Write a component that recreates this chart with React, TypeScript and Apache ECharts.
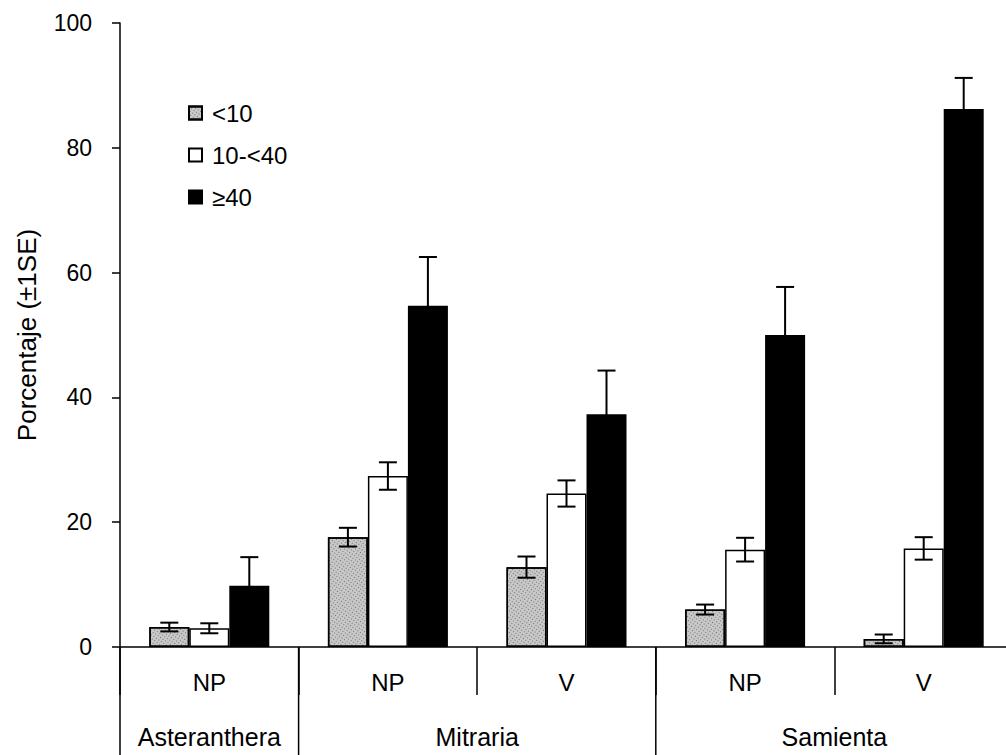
import React, { useEffect, useRef } from "react";
import * as echarts from "echarts";

// ---- data ----
const categories = ["NP", "NP", "V", "NP", "V"];
const groupNames = ["Asteranthera", "Mitraria", "Samienta"];
const groupSizes = [1, 2, 2];
const seriesNames = ["<10", "10-<40", "≥40"];
const lt10 = [3.2, 17.6, 12.8, 6.0, 1.3];
const lt10Err = [0.7, 1.5, 1.7, 0.8, 0.7];
const mid = [3.0, 27.4, 24.6, 15.6, 15.8];
const midErr = [0.8, 2.2, 2.1, 1.9, 1.8];
const hi = [9.8, 54.7, 37.3, 50.0, 86.2];
const hiErr = [4.6, 7.8, 7.0, 7.7, 5.0];
const yTicks = [0, 20, 40, 60, 80, 100];

const BAR_W = 40;
const FONT = "'Liberation Sans', Arial, sans-serif";

function errSeries(values: number[], errs: number[], k: number) {
  return {
    type: "custom",
    z: 10,
    silent: true,
    data: values.map((v, i) => [i, v, errs[i]]),
    encode: { x: 0, y: 1 },
    renderItem: (params: any, api: any) => {
      const i = api.value(0);
      const v = api.value(1);
      const e = api.value(2);
      const x = api.coord([i, 0])[0] + (k - 1) * BAR_W;
      const yTop = api.coord([i, v + e])[1];
      const yBot = api.coord([i, v - e])[1];
      const cap = 9;
      const style = { stroke: "#000", lineWidth: 2 };
      return {
        type: "group",
        children: [
          { type: "line", shape: { x1: x, y1: yTop, x2: x, y2: yBot }, style },
          { type: "line", shape: { x1: x - cap, y1: yTop, x2: x + cap, y2: yTop }, style },
          { type: "line", shape: { x1: x - cap, y1: yBot, x2: x + cap, y2: yBot }, style },
        ],
      };
    },
  };
}

export default function App() {
  const ref = useRef<HTMLDivElement>(null);
  useEffect(() => {
    document.body.style.margin = "0";
    document.body.style.overflow = "hidden";
    const chart = echarts.init(ref.current!, null, { renderer: "svg" });
    const barBase = {
      type: "bar",
      barWidth: BAR_W,
      barGap: "0%",
    };
    chart.setOption({
      animation: false,
      textStyle: { fontFamily: FONT, color: "#000" },
      grid: { left: 120, right: 0, top: 23, bottom: 108, containLabel: false },
      legend: {
        orient: "vertical",
        left: 188,
        top: 101,
        itemWidth: 13,
        itemHeight: 13,
        itemGap: 18,
        padding: 0,
        icon: "rect",
        textStyle: { fontSize: 24, color: "#000", fontFamily: FONT, padding: [0, 0, 0, 5] },
        data: seriesNames,
      },
      xAxis: {
        type: "category",
        data: categories,
        axisLine: { show: true, lineStyle: { color: "#000", width: 1.5 } },
        axisTick: { show: true, interval: 0, length: 48, lineStyle: { color: "#000", width: 1.5 } },
        axisLabel: { fontSize: 24, color: "#000", margin: 23, fontFamily: FONT },
        splitLine: { show: false },
      },
      yAxis: {
        type: "value",
        min: 0,
        max: 100,
        interval: 20,
        name: "Porcentaje (±1SE)",
        nameLocation: "middle",
        nameRotate: 90,
        nameGap: 80,
        nameTextStyle: { fontSize: 26, color: "#000", fontFamily: FONT },
        axisLine: { show: true, lineStyle: { color: "#000", width: 1.5 } },
        axisTick: { show: true, length: 8, lineStyle: { color: "#000", width: 1.5 } },
        axisLabel: {
          fontSize: 23,
          color: "#000",
          margin: 28,
          fontFamily: FONT,
          formatter: (v: number) => (yTicks.includes(v) ? String(v) : ""),
        },
        splitLine: { show: false },
      },
      series: [
        {
          ...barBase,
          name: seriesNames[0],
          data: lt10,
          itemStyle: {
            color: "#c8c8c8",
            borderColor: "#000",
            borderWidth: 1.5,
            decal: {
              symbol: "rect",
              symbolSize: 1,
              color: "rgba(50,50,50,0.6)",
              dashArrayX: [1, 2],
              dashArrayY: [1, 2],
              rotation: 0.6,
            },
          },
        },
        {
          ...barBase,
          name: seriesNames[1],
          data: mid,
          itemStyle: { color: "#ffffff", borderColor: "#000", borderWidth: 1.5 },
        },
        {
          ...barBase,
          name: seriesNames[2],
          data: hi,
          itemStyle: { color: "#000000", borderColor: "#000", borderWidth: 1.5 },
        },
        errSeries(lt10, lt10Err, 0),
        errSeries(mid, midErr, 1),
        errSeries(hi, hiErr, 2),
      ],
    });

    // group separators and group labels, placed with the axis scale
    const px = (i: number) => chart.convertToPixel({ xAxisIndex: 0 }, i) as number;
    const y0 = chart.convertToPixel({ yAxisIndex: 0 }, 0) as number;
    const step = px(1) - px(0);
    const graphics: any[] = [];
    let start = 0;
    groupNames.forEach((name, g) => {
      const n = groupSizes[g];
      const left = px(start) - step / 2;
      const right = px(start + n - 1) + step / 2;
      graphics.push({
        type: "line",
        shape: { x1: left, y1: y0, x2: left, y2: 755 },
        style: { stroke: "#000", lineWidth: 1.5 },
      });
      graphics.push({
        type: "text",
        x: (left + right) / 2,
        y: 737,
        style: {
          text: name,
          fontSize: 25,
          fontFamily: FONT,
          fill: "#000",
          align: "center",
          verticalAlign: "middle",
        },
      });
      start += n;
    });
    chart.setOption({ graphic: graphics });

    return () => chart.dispose();
  }, []);
  return (
    <div
      ref={ref}
      style={{ position: "absolute", left: 0, top: 0, width: 1013, height: 755, background: "#fff" }}
    />
  );
}
